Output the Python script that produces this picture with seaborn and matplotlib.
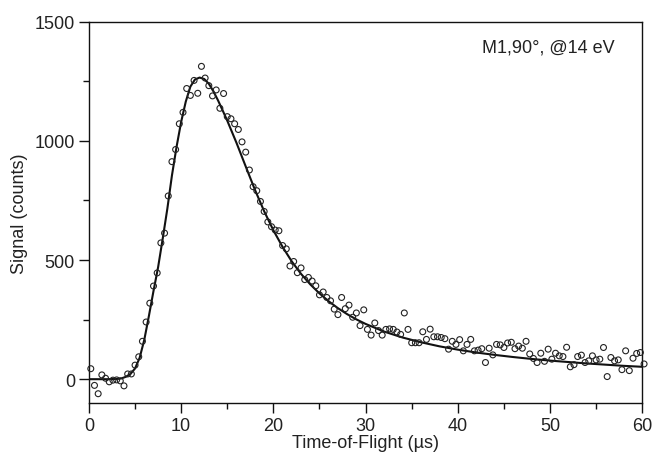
import matplotlib
matplotlib.use('Agg')  # Use non-interactive backend
import matplotlib.pyplot as plt
from matplotlib.ticker import MultipleLocator
import pandas as pd
import seaborn as sns

# Measured time-of-flight spectrum (open circles)
tof = [
    0.2, 0.6, 1.0, 1.4, 1.8, 2.2, 2.6, 3.0, 3.4, 3.8,
    4.2, 4.6, 5.0, 5.4, 5.8, 6.2, 6.6, 7.0, 7.4, 7.8,
    8.2, 8.6, 9.0, 9.4, 9.8, 10.2, 10.6, 11.0, 11.4, 11.8,
    12.2, 12.6, 13.0, 13.4, 13.8, 14.2, 14.6, 15.0, 15.4, 15.8,
    16.2, 16.6, 17.0, 17.4, 17.8, 18.2, 18.6, 19.0, 19.4, 19.8,
    20.2, 20.6, 21.0, 21.4, 21.8, 22.2, 22.6, 23.0, 23.4, 23.8,
    24.2, 24.6, 25.0, 25.4, 25.8, 26.2, 26.6, 27.0, 27.4, 27.8,
    28.2, 28.6, 29.0, 29.4, 29.8, 30.2, 30.6, 31.0, 31.4, 31.8,
    32.2, 32.6, 33.0, 33.4, 33.8, 34.2, 34.6, 35.0, 35.4, 35.8,
    36.2, 36.6, 37.0, 37.4, 37.8, 38.2, 38.6, 39.0, 39.4, 39.8,
    40.2, 40.6, 41.0, 41.4, 41.8, 42.2, 42.6, 43.0, 43.4, 43.8,
    44.2, 44.6, 45.0, 45.4, 45.8, 46.2, 46.6, 47.0, 47.4, 47.8,
    48.2, 48.6, 49.0, 49.4, 49.8, 50.2, 50.6, 51.0, 51.4, 51.8,
    52.2, 52.6, 53.0, 53.4, 53.8, 54.2, 54.6, 55.0, 55.4, 55.8,
    56.2, 56.6, 57.0, 57.4, 57.8, 58.2, 58.6, 59.0, 59.4, 59.8,
    60.2,
]
signal = [
    44, -26, -61, 18, 4, -11, -4, -3, -7, -28,
    22, 22, 59, 94, 159, 240, 319, 391, 446, 572,
    613, 769, 913, 964, 1072, 1120, 1220, 1191, 1254, 1200,
    1313, 1264, 1232, 1189, 1214, 1137, 1199, 1102, 1093, 1072,
    1048, 996, 953, 878, 808, 791, 746, 704, 660, 640,
    626, 623, 561, 547, 475, 494, 447, 467, 418, 427,
    412, 392, 354, 366, 343, 329, 294, 271, 343, 296,
    311, 260, 278, 225, 291, 209, 185, 236, 204, 185,
    209, 211, 209, 198, 188, 278, 209, 153, 153, 153,
    199, 167, 210, 178, 178, 175, 170, 126, 159, 146,
    166, 119, 146, 167, 119, 122, 128, 70, 130, 102,
    146, 144, 133, 152, 155, 128, 139, 130, 159, 106,
    87, 70, 109, 75, 126, 84, 109, 98, 95, 134,
    52, 61, 95, 101, 70, 77, 98, 81, 84, 133,
    11, 91, 77, 81, 40, 119, 36, 88, 108, 112,
    64,
]

# Fitted curve (solid line)
fit_t = [0, 1, 2, 3, 3.5, 4, 4.5, 5, 5.5, 6, 6.5, 7, 7.5, 8, 8.5, 9, 9.5,
         10, 10.5, 11, 11.5, 12, 12.5, 13, 13.5, 14, 14.5, 15, 16, 17, 18,
         19, 20, 21, 22, 23, 24, 25, 26, 27, 28, 29, 30, 32, 34, 36, 38,
         40, 42, 44, 46, 48, 50, 52, 54, 56, 58, 60]
fit_y = [0, 0, 0, 1, 3, 10, 22, 45, 90, 165, 265, 370, 470, 590, 715, 855, 975,
         1080, 1165, 1228, 1258, 1266, 1260, 1240, 1208, 1170, 1128, 1085, 992, 893, 795,
         705, 625, 555, 494, 442, 398, 360, 327, 298, 273, 251, 232, 200, 175, 155, 138,
         124, 112, 102, 93, 85, 78, 72, 66, 61, 56, 52]

label_text = "M1,90\u00b0, @14 eV"

points = pd.DataFrame({"tof": tof, "signal": signal})
fit = pd.DataFrame({"tof": fit_t, "signal": fit_y})

sns.set_theme(style="ticks")
plt.rcParams['font.family'] = ['Liberation Sans', 'DejaVu Sans']

fig = plt.figure(figsize=(6.54, 4.56), dpi=100)
ax = fig.add_axes([0.136, 0.114, 0.846, 0.836])

sns.lineplot(data=fit, x="tof", y="signal", ax=ax, color="#111111",
             linewidth=1.5, zorder=2)
sns.scatterplot(data=points, x="tof", y="signal", ax=ax, marker="o",
                s=18, facecolor="none", edgecolor="#222222", linewidth=0.8,
                zorder=3, clip_on=False)

ax.set_xlim(0, 60)
ax.set_ylim(-100, 1500)
ax.xaxis.set_major_locator(MultipleLocator(10))
ax.xaxis.set_minor_locator(MultipleLocator(5))
ax.yaxis.set_major_locator(MultipleLocator(500))
ax.yaxis.set_minor_locator(MultipleLocator(250))
ax.tick_params(which="major", direction="out", length=7, width=1,
               color="#111111", labelsize=13, labelcolor="#222222", pad=3)
ax.tick_params(which="minor", direction="out", length=4, width=1,
               color="#111111")
ax.tick_params(top=False, right=False)

for side in ["top", "right", "bottom", "left"]:
    ax.spines[side].set_visible(True)
    ax.spines[side].set_color("#111111")
    ax.spines[side].set_linewidth(1.0)

ax.set_xlabel("Time-of-Flight (\u00b5s)", fontsize=13, color="#222222", labelpad=0)
ax.set_ylabel("Signal (counts)", fontsize=13, color="#222222", labelpad=5)

ax.text(0.951, 0.934, label_text, transform=ax.transAxes, ha="right",
        va="center", fontsize=13, color="#222222")

plt.savefig("out.png", dpi=100)
plt.close()
